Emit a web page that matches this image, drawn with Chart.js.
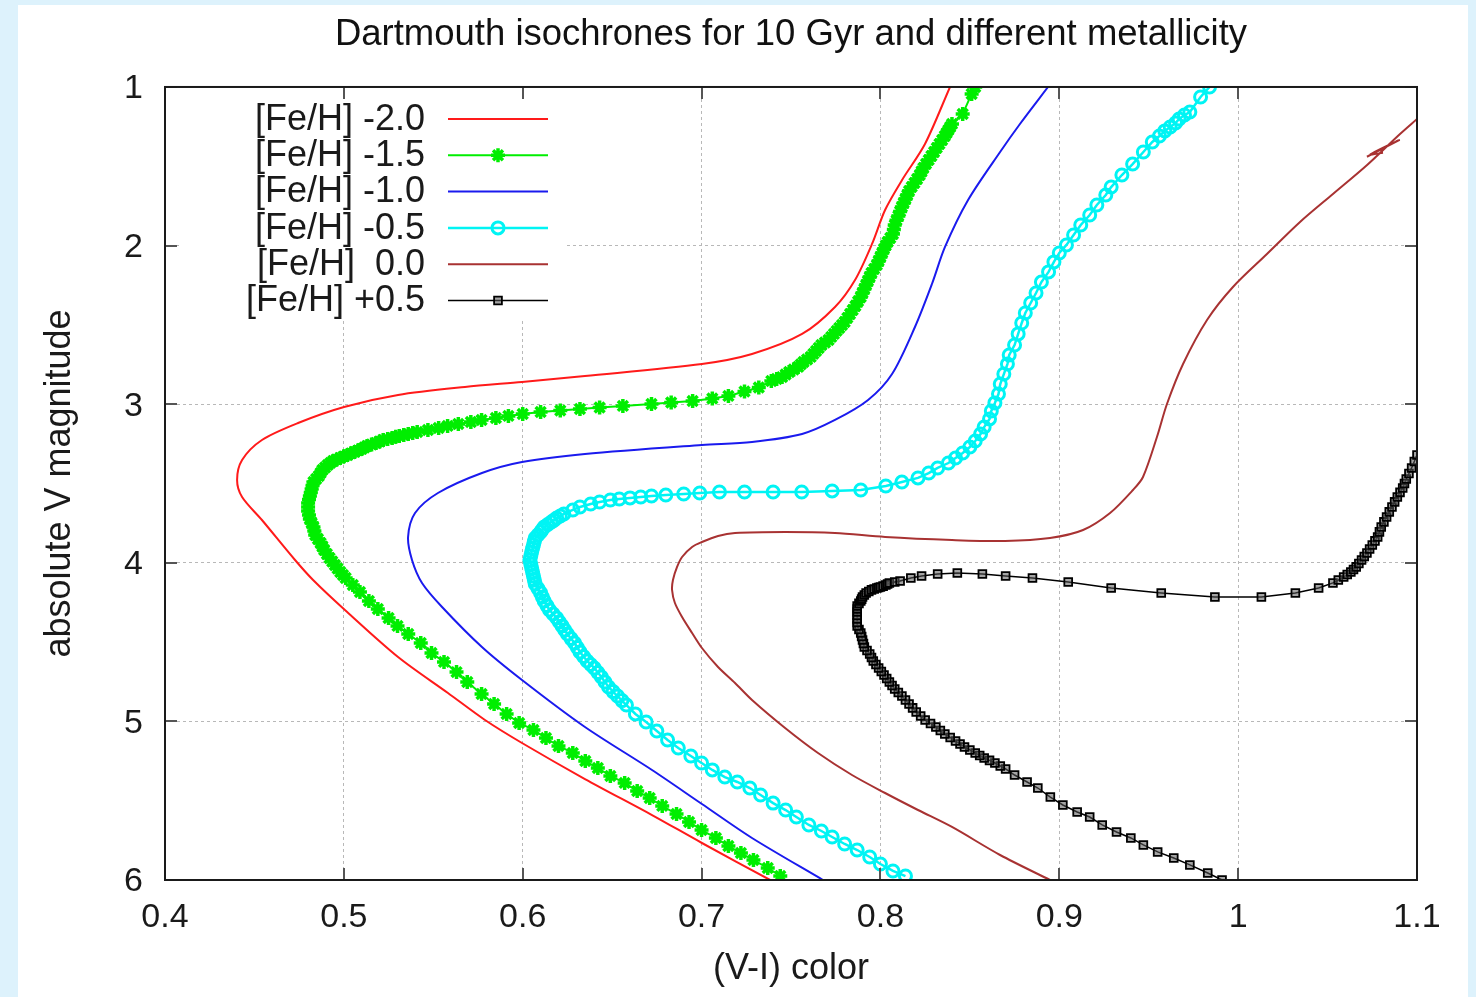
<!DOCTYPE html>
<html>
<head>
<meta charset="utf-8">
<title>Dartmouth isochrones</title>
<script src="https://cdn.jsdelivr.net/npm/chart.js@4.4.1/dist/chart.umd.min.js"></script>
<style>
  html, body { margin: 0; padding: 0; }
  body { width: 1476px; height: 997px; background: #ddf2fc; overflow: hidden; position: relative; }
  #panel { position: absolute; left: 18px; top: 5px; width: 1450px; height: 992px; background: #ffffff; }
  #c { position: absolute; left: 0; top: 0; }
</style>
</head>
<body>
<div id="panel"><canvas id="c" width="1450" height="992"></canvas></div>
<script>
// Dartmouth isochrones, 10 Gyr: points as [V-I colour, absolute V magnitude]
const titleText = 'Dartmouth isochrones for 10 Gyr and different metallicity';
const xTitle = '(V-I) color';
const yTitle = 'absolute V magnitude';
const xTicks = [0.4, 0.5, 0.6, 0.7, 0.8, 0.9, 1.0, 1.1];
const xTickLabels = ['0.4', '0.5', '0.6', '0.7', '0.8', '0.9', '1', '1.1'];
const yTicks = [1, 2, 3, 4, 5, 6];
const yTickLabels = ['1', '2', '3', '4', '5', '6'];
const seriesLabels = ['[Fe/H] -2.0', '[Fe/H] -1.5', '[Fe/H] -1.0', '[Fe/H] -0.5', '[Fe/H]  0.0', '[Fe/H] +0.5'];

const fehM20 = [
  [0.7383,6.0000],[0.7002,5.7667],[0.6723,5.5902],[0.6348,5.3632],[0.5996,5.1362],[0.5789,4.9912],
  [0.5582,4.8210],[0.5303,4.5940],[0.5006,4.2976],[0.4828,4.1085],[0.4727,3.9824],[0.4542,3.7302],
  [0.4431,3.5851],[0.4403,3.4779],[0.4431,3.3518],[0.4542,3.2257],[0.4744,3.1185],[0.5001,3.0177],
  [0.5303,2.9420],[0.5677,2.8916],[0.5996,2.8600],[0.6348,2.8222],[0.7002,2.7465],[0.7282,2.6835],
  [0.7562,2.5574],[0.7746,2.3871],[0.7858,2.2169],[0.7953,1.9899],[0.8026,1.7755],[0.8121,1.5864],
  [0.8249,1.3594],[0.8389,1.0000]
];

const fehM15 = [
  [0.744,5.975],[0.737,5.924],[0.729,5.874],[0.722,5.830],[0.715,5.786],[0.708,5.735],[0.700,5.685],
  [0.693,5.634],[0.686,5.584],[0.678,5.533],[0.671,5.483],[0.664,5.439],[0.657,5.388],[0.649,5.344],
  [0.642,5.294],[0.635,5.250],[0.628,5.199],[0.620,5.155],[0.613,5.105],[0.606,5.054],[0.598,5.010],
  [0.591,4.953],[0.584,4.890],[0.577,4.827],[0.569,4.752],[0.563,4.689],[0.556,4.625],[0.549,4.569],
  [0.543,4.506],[0.536,4.449],[0.530,4.398],[0.525,4.348],[0.519,4.291],[0.514,4.241],[0.509,4.184],
  [0.505,4.140],[0.501,4.096],[0.4995,4.077],[0.498,4.058],[0.4965,4.036],[0.495,4.014],[0.4935,3.992],
  [0.492,3.970],[0.4905,3.945],[0.489,3.919],[0.488,3.897],[0.487,3.875],[0.4855,3.850],[0.484,3.825],
  [0.4835,3.800],[0.483,3.774],[0.482,3.749],[0.481,3.724],[0.4805,3.698],[0.480,3.673],[0.480,3.648],
  [0.480,3.623],[0.4805,3.601],[0.481,3.579],[0.4815,3.557],[0.482,3.535],[0.4825,3.513],[0.483,3.491],
  [0.4845,3.472],[0.486,3.453],[0.487,3.434],[0.488,3.415],[0.4895,3.399],[0.491,3.383],[0.4925,3.370],
  [0.494,3.358],[0.496,3.348],[0.498,3.339],[0.500,3.329],[0.502,3.320],[0.504,3.310],[0.506,3.301],
  [0.508,3.291],[0.510,3.282],[0.5115,3.273],[0.513,3.264],[0.5155,3.254],[0.518,3.245],[0.520,3.235],
  [0.522,3.226],[0.5245,3.219],[0.527,3.213],[0.529,3.206],[0.531,3.200],[0.5335,3.194],[0.536,3.188],
  [0.5385,3.181],[0.541,3.175],[0.547,3.163],[0.553,3.150],[0.558,3.137],[0.564,3.125],[0.571,3.112],
  [0.577,3.100],[0.585,3.087],[0.592,3.074],[0.600,3.062],[0.610,3.049],[0.621,3.040],[0.632,3.030],
  [0.643,3.021],[0.656,3.011],[0.672,2.999],[0.683,2.989],[0.695,2.980],[0.706,2.964],[0.715,2.948],
  [0.724,2.920],[0.732,2.895],[0.739,2.854],[0.742,2.841],[0.745,2.829],[0.747,2.813],[0.749,2.797],
  [0.7515,2.781],[0.754,2.765],[0.7555,2.749],[0.757,2.734],[0.759,2.718],[0.761,2.702],[0.7625,2.683],
  [0.764,2.665],[0.7655,2.646],[0.767,2.627],[0.769,2.611],[0.771,2.595],[0.7725,2.576],[0.774,2.557],
  [0.7755,2.538],[0.777,2.520],[0.7785,2.501],[0.780,2.482],[0.7815,2.456],[0.783,2.431],[0.7845,2.406],
  [0.786,2.381],[0.7875,2.352],[0.789,2.324],[0.790,2.299],[0.791,2.274],[0.792,2.248],[0.793,2.223],
  [0.794,2.198],[0.795,2.173],[0.7965,2.147],[0.798,2.122],[0.799,2.097],[0.800,2.072],[0.801,2.046],
  [0.802,2.021],[0.803,1.999],[0.804,1.977],[0.8055,1.952],[0.807,1.927],[0.8075,1.898],[0.808,1.870],
  [0.809,1.841],[0.810,1.813],[0.811,1.785],[0.812,1.757],[0.813,1.731],[0.814,1.706],[0.815,1.681],
  [0.816,1.656],[0.8175,1.630],[0.819,1.605],[0.8205,1.580],[0.822,1.555],[0.823,1.533],[0.824,1.511],
  [0.8255,1.485],[0.827,1.460],[0.8285,1.435],[0.830,1.410],[0.8315,1.384],[0.833,1.359],[0.8345,1.334],
  [0.836,1.309],[0.837,1.290],[0.838,1.271],[0.839,1.252],[0.840,1.233],[0.846,1.170],[0.851,1.044],
  [0.853,1.000]
];

const fehM10 = [
  [0.7679,6.0000],[0.7282,5.7352],[0.7002,5.5208],[0.6723,5.3065],[0.6348,5.0353],[0.5996,4.7390],
  [0.5772,4.5309],[0.5549,4.2787],[0.5437,4.1274],[0.5381,3.9824],[0.5359,3.8373],[0.5398,3.6860],
  [0.5526,3.5599],[0.5772,3.4338],[0.5996,3.3645],[0.6348,3.3140],[0.7002,3.2573],[0.7282,3.2383],
  [0.7562,3.1879],[0.7746,3.0996],[0.7931,2.9735],[0.8065,2.8096],[0.8193,2.5132],[0.8288,2.2421],
  [0.8361,2.0088],[0.8490,1.7125],[0.8669,1.4098],[0.8780,1.2333],[0.8937,1.0000]
];

const fehM05 = [
  [0.814,5.975],[0.807,5.943],[0.800,5.899],[0.794,5.855],[0.787,5.811],[0.780,5.773],[0.773,5.729],
  [0.767,5.691],[0.760,5.653],[0.753,5.603],[0.747,5.559],[0.740,5.515],[0.733,5.464],[0.727,5.420],
  [0.720,5.382],[0.713,5.351],[0.706,5.306],[0.700,5.262],[0.694,5.218],[0.687,5.168],[0.681,5.117],
  [0.675,5.061],[0.669,5.004],[0.663,4.953],[0.658,4.897],[0.6555,4.869],[0.653,4.840],[0.6505,4.812],
  [0.648,4.783],[0.646,4.752],[0.644,4.720],[0.642,4.692],[0.640,4.663],[0.638,4.641],[0.636,4.619],
  [0.634,4.591],[0.632,4.562],[0.6305,4.534],[0.629,4.506],[0.627,4.478],[0.625,4.449],[0.6235,4.424],
  [0.622,4.398],[0.6205,4.373],[0.619,4.348],[0.617,4.323],[0.615,4.298],[0.6135,4.270],[0.612,4.241],
  [0.611,4.216],[0.610,4.190],[0.6085,4.162],[0.607,4.134],[0.6065,4.109],[0.606,4.083],[0.6055,4.058],
  [0.605,4.033],[0.6045,4.008],[0.604,3.982],[0.6045,3.957],[0.605,3.932],[0.6055,3.910],[0.606,3.888],
  [0.6065,3.866],[0.607,3.844],[0.6085,3.825],[0.610,3.806],[0.611,3.790],[0.612,3.774],[0.614,3.759],
  [0.616,3.743],[0.6175,3.731],[0.619,3.718],[0.621,3.705],[0.623,3.692],[0.628,3.667],[0.632,3.648],
  [0.638,3.629],[0.643,3.617],[0.649,3.604],[0.654,3.598],[0.660,3.591],[0.666,3.585],[0.672,3.579],
  [0.680,3.573],[0.690,3.566],[0.699,3.560],[0.710,3.554],[0.724,3.554],[0.740,3.554],[0.756,3.554],
  [0.773,3.547],[0.789,3.541],[0.803,3.516],[0.812,3.491],[0.821,3.465],[0.827,3.434],[0.832,3.402],
  [0.838,3.371],[0.842,3.339],[0.846,3.308],[0.850,3.270],[0.853,3.232],[0.856,3.188],[0.858,3.144],
  [0.861,3.093],[0.862,3.043],[0.864,2.992],[0.866,2.936],[0.867,2.873],[0.869,2.810],[0.871,2.747],
  [0.872,2.690],[0.875,2.627],[0.877,2.557],[0.879,2.488],[0.881,2.425],[0.884,2.362],[0.887,2.299],
  [0.890,2.230],[0.894,2.166],[0.897,2.103],[0.900,2.047],[0.904,1.996],[0.908,1.933],[0.912,1.870],
  [0.917,1.807],[0.921,1.744],[0.926,1.681],[0.929,1.631],[0.935,1.555],[0.941,1.486],[0.947,1.410],
  [0.952,1.347],[0.956,1.309],[0.959,1.277],[0.962,1.252],[0.965,1.227],[0.967,1.202],[0.970,1.177],
  [0.973,1.158],[0.979,1.063],[0.984,1.000]
];

const fehP00 = [
  [0.8948,6.0000],[0.8669,5.8424],[0.8400,5.6658],[0.8210,5.5587],[0.8026,5.4515],[0.7841,5.3380],
  [0.7651,5.1993],[0.7467,5.0416],[0.7282,4.8651],[0.7187,4.7579],[0.7092,4.6570],[0.7002,4.5372],
  [0.6947,4.4426],[0.6891,4.3418],[0.6851,4.2535],[0.6835,4.1715],[0.6840,4.1085],[0.6863,4.0265],
  [0.6891,3.9634],[0.6947,3.9004],[0.7002,3.8689],[0.7092,3.8310],[0.7187,3.8121],[0.7467,3.8058],
  [0.7746,3.8121],[0.8026,3.8373],[0.8400,3.8563],[0.8697,3.8626],[0.8948,3.8436],[0.9133,3.7932],
  [0.9284,3.6860],[0.9412,3.5410],[0.9468,3.4590],[0.9546,3.2068],[0.9602,2.9987],[0.9692,2.7465],
  [0.9826,2.4691],[0.9971,2.2610],[1.0161,2.0530],[1.0346,1.8512],[1.0530,1.6747],[1.0721,1.4918],
  [1.0905,1.2963],[1.1000,1.2018],
  [null,null],
  [1.072,1.440],[1.090,1.335],[1.074,1.425],[1.081,1.415]
];

const fehP05 = [
  [0.991,6.000],[0.983,5.956],[0.973,5.905],[0.964,5.861],[0.955,5.823],[0.947,5.779],[0.940,5.735],
  [0.932,5.697],[0.924,5.653],[0.917,5.603],[0.910,5.571],[0.902,5.527],[0.895,5.477],[0.888,5.420],
  [0.882,5.382],[0.875,5.338],[0.870,5.300],[0.867,5.281],[0.864,5.262],[0.861,5.246],[0.858,5.231],
  [0.8555,5.215],[0.853,5.199],[0.850,5.180],[0.847,5.161],[0.8445,5.142],[0.842,5.124],[0.839,5.101],
  [0.836,5.079],[0.8335,5.057],[0.831,5.035],[0.828,5.013],[0.825,4.991],[0.8225,4.966],[0.820,4.941],
  [0.818,4.915],[0.816,4.890],[0.814,4.865],[0.812,4.840],[0.810,4.818],[0.808,4.796],[0.8065,4.774],
  [0.805,4.752],[0.8035,4.730],[0.802,4.707],[0.8005,4.685],[0.799,4.663],[0.7975,4.641],[0.796,4.619],
  [0.795,4.597],[0.794,4.575],[0.7925,4.553],[0.791,4.531],[0.7905,4.509],[0.790,4.487],[0.7895,4.465],
  [0.789,4.443],[0.788,4.421],[0.787,4.398],[0.787,4.376],[0.787,4.354],[0.787,4.332],[0.787,4.310],
  [0.787,4.291],[0.787,4.272],[0.788,4.256],[0.789,4.241],[0.7895,4.229],[0.790,4.216],[0.791,4.203],
  [0.792,4.190],[0.7935,4.181],[0.795,4.171],[0.7965,4.165],[0.798,4.159],[0.799,4.156],[0.800,4.153],
  [0.8015,4.147],[0.803,4.140],[0.804,4.134],[0.805,4.127],[0.808,4.121],[0.811,4.115],[0.817,4.096],
  [0.823,4.083],[0.832,4.071],[0.843,4.064],[0.857,4.071],[0.870,4.083],[0.885,4.096],[0.905,4.121],
  [0.929,4.159],[0.957,4.190],[0.987,4.216],[1.013,4.216],[1.032,4.190],[1.045,4.159],[1.053,4.127],
  [1.056,4.109],[1.059,4.090],[1.061,4.074],[1.063,4.058],[1.0645,4.042],[1.066,4.026],[1.0675,4.004],
  [1.069,3.982],[1.0705,3.960],[1.072,3.938],[1.0735,3.913],[1.075,3.888],[1.0765,3.862],[1.078,3.837],
  [1.079,3.805],[1.080,3.774],[1.0815,3.742],[1.083,3.711],[1.0845,3.679],[1.086,3.648],[1.0875,3.616],
  [1.089,3.585],[1.0905,3.556],[1.092,3.528],[1.093,3.500],[1.094,3.472],[1.0955,3.437],[1.097,3.402],
  [1.0985,3.361],[1.100,3.320]
];

const seriesData = [fehM20, fehM15, fehM10, fehM05, fehP00, fehP05];
const seriesColors = ['#ff1a1a', '#00ee00', '#1a1aee', '#00f4f4', '#a83232', '#000000'];

const FONT = '"Liberation Sans", Arial, Helvetica, sans-serif';

function toPoints(arr) {
  return arr.map(p => ({ x: p[0], y: p[1] }));
}

const styles = [
  { borderWidth: 2, pointRadius: 0, tension: 0.3 },
  { borderWidth: 2, pointRadius: 7, pointStyle: 'star', pointBorderWidth: 3.5, tension: 0 },
  { borderWidth: 2, pointRadius: 0, tension: 0.3 },
  { borderWidth: 2.5, pointRadius: 6, pointStyle: 'circle', pointBorderWidth: 3, tension: 0, transparentFill: true },
  { borderWidth: 2, pointRadius: 0, tension: 0.3 },
  { borderWidth: 1.5, pointRadius: 5.5, pointStyle: 'rect', pointBorderWidth: 1.8, tension: 0, greyFill: true }
];

const datasets = seriesData.map((arr, i) => {
  const s = styles[i];
  const col = seriesColors[i];
  let fill = col;
  if (s.transparentFill) fill = 'rgba(255,255,255,0)';
  if (s.greyFill) fill = 'rgba(90,90,90,0.55)';
  return {
    label: seriesLabels[i],
    data: toPoints(arr),
    showLine: true,
    borderColor: col,
    backgroundColor: fill,
    borderWidth: s.borderWidth,
    pointRadius: s.pointRadius,
    pointHoverRadius: s.pointRadius,
    pointHitRadius: 0,
    pointStyle: s.pointStyle || 'circle',
    pointBorderColor: col,
    pointBackgroundColor: fill,
    pointBorderWidth: s.pointBorderWidth || 0,
    tension: s.tension,
    spanGaps: false,
    order: -i
  };
});

// frame, inward tick marks and the key box, drawn in the gnuplot manner
const frameAndKey = {
  id: 'frameAndKey',
  beforeDatasetsDraw(chart) {
    const { ctx, chartArea: a } = chart;
    ctx.save();
    ctx.fillStyle = '#ffffff';
    ctx.fillRect(a.left + 14, a.top + 9, 388, 223);
    ctx.restore();
  },
  afterDatasetsDraw(chart) {
    const { ctx, chartArea: a, scales } = chart;
    const xs = scales.x, ys = scales.y;
    ctx.save();
    ctx.strokeStyle = '#555555';
    ctx.lineWidth = 2;
    ctx.setLineDash([]);
    ctx.beginPath();
    xs.ticks.forEach(t => {
      const px = Math.round(xs.getPixelForValue(t.value));
      ctx.moveTo(px, a.bottom); ctx.lineTo(px, a.bottom - 12);
      ctx.moveTo(px, a.top); ctx.lineTo(px, a.top + 12);
    });
    ys.ticks.forEach(t => {
      const py = Math.round(ys.getPixelForValue(t.value));
      ctx.moveTo(a.left, py); ctx.lineTo(a.left + 12, py);
      ctx.moveTo(a.right, py); ctx.lineTo(a.right - 12, py);
    });
    ctx.stroke();

    ctx.strokeStyle = '#1a1a1a';
    ctx.lineWidth = 2;
    ctx.strokeRect(a.left, a.top, a.right - a.left, a.bottom - a.top);

    // key entries
    ctx.font = '36px ' + FONT;
    ctx.textAlign = 'right';
    ctx.textBaseline = 'middle';
    chart.data.datasets.forEach((ds, i) => {
      const y = a.top + 32 + i * 36.3;
      ctx.fillStyle = '#1a1a1a';
      ctx.fillText(ds.label, a.left + 260, y + 1);
      ctx.strokeStyle = ds.borderColor;
      ctx.lineWidth = ds.borderWidth;
      ctx.beginPath();
      ctx.moveTo(a.left + 283, y);
      ctx.lineTo(a.left + 383, y);
      ctx.stroke();
      if (ds.pointRadius > 0) {
        ctx.fillStyle = ds.pointBackgroundColor;
        ctx.strokeStyle = ds.pointBorderColor;
        ctx.lineWidth = ds.pointBorderWidth;
        Chart.helpers.drawPoint(ctx, {
          pointStyle: ds.pointStyle, rotation: 0,
          radius: ds.pointRadius, borderWidth: ds.pointBorderWidth
        }, a.left + 333, y);
      }
    });
    ctx.restore();
  }
};

const tickFont = { family: FONT, size: 34 };
const axisTitleFont = { family: FONT, size: 36 };

new Chart(document.getElementById('c').getContext('2d'), {
  type: 'scatter',
  data: { datasets },
  options: {
    responsive: false,
    animation: false,
    devicePixelRatio: 1,
    events: [],
    layout: { padding: { left: 0, right: 51, top: 0, bottom: 0 } },
    plugins: {
      legend: { display: false },
      tooltip: { enabled: false },
      title: {
        display: true,
        text: titleText,
        fullSize: false,
        color: '#111111',
        font: { family: FONT, size: 36.5, weight: 'normal', lineHeight: 1.15 },
        padding: { top: 9, bottom: 31 }
      }
    },
    scales: {
      x: {
        type: 'linear',
        min: 0.4,
        max: 1.1,
        afterBuildTicks: s => { s.ticks = xTicks.map(v => ({ value: v })); },
        afterFit: s => { s.height = 117; },
        ticks: {
          callback: (v, i) => xTickLabels[i],
          font: tickFont,
          color: '#1a1a1a',
          padding: 17,
          maxRotation: 0,
          autoSkip: false
        },
        grid: { color: '#b8b8b8', lineWidth: 1, drawTicks: false },
        border: { display: false, dash: [3, 3] },
        title: {
          display: true,
          text: xTitle,
          color: '#1a1a1a',
          font: axisTitleFont,
          padding: { top: 0, bottom: 6 }
        }
      },
      y: {
        type: 'linear',
        reverse: true,
        min: 1,
        max: 6,
        afterBuildTicks: s => { s.ticks = yTicks.map(v => ({ value: v })); },
        afterFit: s => { s.width = 147; },
        ticks: {
          callback: (v, i) => yTickLabels[i],
          font: tickFont,
          color: '#1a1a1a',
          padding: 22,
          labelOffset: 2,
          autoSkip: false
        },
        grid: { color: '#b8b8b8', lineWidth: 1, drawTicks: false },
        border: { display: false, dash: [3, 3] },
        title: {
          display: true,
          text: yTitle,
          color: '#1a1a1a',
          font: axisTitleFont,
          padding: { top: 20, bottom: 0 }
        }
      }
    }
  },
  plugins: [frameAndKey]
});
</script>
</body>
</html>
